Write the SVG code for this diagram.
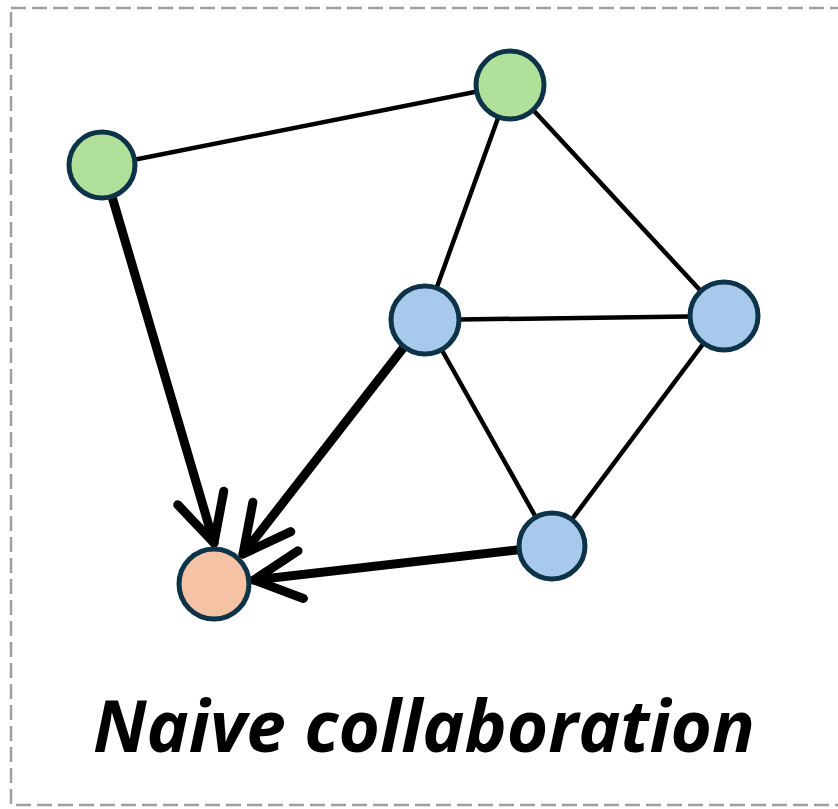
<svg xmlns="http://www.w3.org/2000/svg" width="838" height="809" viewBox="0 0 838 809">
<style>
.edge{stroke:#000;stroke-width:4.5;fill:none;stroke-linecap:round}
.flow{stroke:#000;stroke-width:9;fill:none;stroke-linecap:round}
.node{stroke:#0d3349;stroke-width:5}
.green{fill:#b0e09a}
.blue{fill:#a6c9ec}
.orange{fill:#f5c2a6}
.label{font-family:"Open Sans","Noto Sans",sans-serif;font-weight:bold;font-style:italic;font-size:71px;fill:#000}
</style>
<defs>
<marker id="arrow" markerUnits="userSpaceOnUse" viewBox="-60 -35 70 70" markerWidth="70" markerHeight="70" refX="0" refY="0" orient="auto" overflow="visible">
<path d="M-47,-24 L0,0 L-47,24" fill="none" stroke="#000" stroke-width="9" stroke-linecap="round" stroke-linejoin="round"/>
</marker>
</defs>
<rect x="11" y="8" width="840" height="797" fill="none" stroke="#9e9e9e" stroke-width="2.5" stroke-dasharray="15 6"/>
<g id="connectors">
<line class="edge" x1="103" y1="166" x2="510" y2="85"/>
<line class="edge" x1="510" y1="85" x2="425" y2="320"/>
<line class="edge" x1="510" y1="85" x2="724" y2="316"/>
<line class="edge" x1="425" y1="320" x2="724" y2="316"/>
<line class="edge" x1="425" y1="320" x2="552" y2="546"/>
<line class="edge" x1="724" y1="316" x2="552" y2="546"/>
<line class="flow" x1="103" y1="166" x2="214" y2="543" marker-end="url(#arrow)"/>
<line class="flow" x1="425" y1="320" x2="243" y2="554" marker-end="url(#arrow)"/>
<line class="flow" x1="552" y1="546" x2="254" y2="580" marker-end="url(#arrow)"/>
</g>
<g id="n_green1"><circle class="node green" cx="102" cy="165" r="33"/></g>
<g id="n_green2"><circle class="node green" cx="510" cy="85" r="34"/></g>
<g id="n_blue1"><circle class="node blue" cx="425" cy="320" r="34"/></g>
<g id="n_blue2"><circle class="node blue" cx="724" cy="316" r="34"/></g>
<g id="n_blue3"><circle class="node blue" cx="552" cy="546" r="33"/></g>
<g id="n_orange"><circle class="node orange" cx="214" cy="584" r="35"/></g>
<text class="label" x="93" y="752" textLength="662" lengthAdjust="spacingAndGlyphs">Naive collaboration</text>
</svg>
